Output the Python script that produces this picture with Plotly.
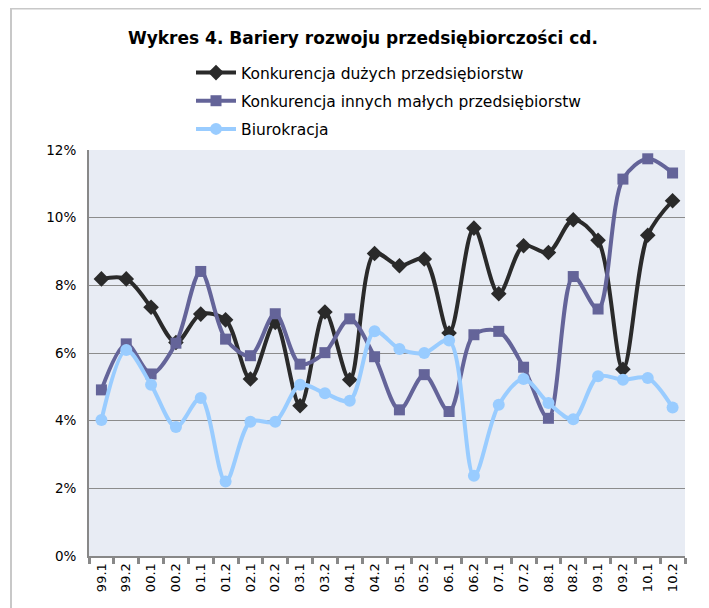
import plotly.graph_objects as go

categories = ["99.1", "99.2", "00.1", "00.2", "01.1", "01.2", "02.1", "02.2",
              "03.1", "03.2", "04.1", "04.2", "05.1", "05.2", "06.1", "06.2",
              "07.1", "07.2", "08.1", "08.2", "09.1", "09.2", "10.1", "10.2"]

duze = [8.19, 8.19, 7.35, 6.31, 7.15, 6.98, 5.23, 6.90, 4.44, 7.21, 5.21, 8.94,
        8.58, 8.78, 6.59, 9.69, 7.75, 9.17, 8.97, 9.94, 9.33, 5.52, 9.48, 10.50]
male = [4.91, 6.27, 5.38, 6.29, 8.41, 6.41, 5.92, 7.16, 5.67, 6.01, 7.01, 5.89,
        4.32, 5.36, 4.27, 6.54, 6.64, 5.58, 4.07, 8.26, 7.30, 11.14, 11.74, 11.32]
biuro = [4.02, 6.09, 5.06, 3.81, 4.67, 2.20, 3.97, 3.97, 5.06, 4.81, 4.59, 6.64,
         6.12, 6.00, 6.37, 2.37, 4.47, 5.23, 4.52, 4.04, 5.31, 5.21, 5.26, 4.39]

series_names = ["Konkurencja dużych przedsiębiorstw",
                "Konkurencja innych małych przedsiębiorstw",
                "Biurokracja"]
title_text = "Wykres 4. Bariery rozwoju przedsiębiorczości cd."
y_ticks = [0, 2, 4, 6, 8, 10, 12]

FONT = "'DejaVu Sans', 'Open Sans', sans-serif"
W, H = 709, 608
# page body has an 8px margin, so figure coordinates = screen - 8
L, R, T, B = 81, 677, 142, 548

def px_x(p):
    return (p - L) / (R - L)

def px_y(p):
    return (B - p) / (B - T)

fig = go.Figure()
styles = [
    (duze, "#2a2a2a", "diamond", 12),
    (male, "#646499", "square", 11),
    (biuro, "#99ccff", "circle", 12),
]
for i, (vals, col, sym, size) in enumerate(styles):
    fig.add_trace(go.Scatter(
        x=categories, y=[v / 100 for v in vals], name=series_names[i],
        mode="lines+markers",
        line=dict(color=col, width=4, shape="spline", smoothing=0.9),
        marker=dict(symbol=sym, size=size, color=col),
        legendgroup=str(i),
    ))

fig.update_layout(
    width=W, height=H,
    margin=dict(l=L, r=W - R, t=T, b=H - B, autoexpand=False),
    paper_bgcolor="white",
    plot_bgcolor="#e8ecf4",
    font=dict(family=FONT, size=14, color="#000000"),
    title=dict(text="<b>" + title_text + "</b>", x=px_x(363 - 8), xanchor="center",
               xref="paper", y=1 - 30 / H, yanchor="middle",
               font=dict(family=FONT, size=17, color="#000")),
    showlegend=True,
    legend=dict(x=px_x(183), y=px_y(48), xanchor="left", yanchor="top",
                orientation="v", bgcolor="rgba(0,0,0,0)",
                font=dict(family=FONT, size=15.5, color="#000"),
                tracegroupgap=5, itemwidth=40),
    xaxis=dict(
        type="category", range=[-0.5, len(categories) - 0.5],
        tickson="boundaries", ticks="outside", ticklen=6, tickwidth=3,
        tickcolor="#888", showline=True, linecolor="#888", linewidth=2,
        showgrid=False, tickangle=-90, tickfont=dict(size=13, family=FONT),
    ),
    yaxis=dict(
        range=[0, 0.12], tickvals=[v / 100 for v in y_ticks],
        tickformat=".0%", showgrid=True, gridcolor="#8c8c8c", gridwidth=1,
        showline=True, linecolor="#888", linewidth=2, zeroline=False,
        ticks="", tickfont=dict(size=13.5, family=FONT), ticklabelstandoff=8,
    ),
    shapes=[
        dict(type="line", xref="paper", yref="paper",
             x0=px_x(3), x1=px_x(W), y0=px_y(0.5), y1=px_y(0.5),
             line=dict(color="#c8c8c8", width=2)),
        dict(type="line", xref="paper", yref="paper",
             x0=px_x(3), x1=px_x(3), y0=px_y(0), y1=px_y(H),
             line=dict(color="#c8c8c8", width=2)),
    ],
)

fig.write_html("out.html")
